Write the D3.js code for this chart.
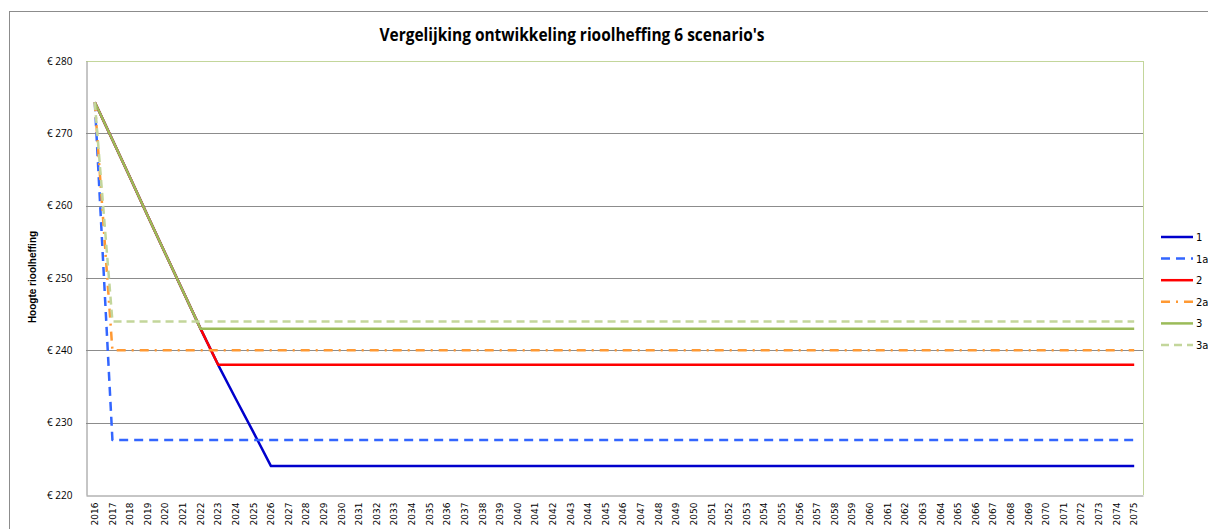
<!DOCTYPE html>
<html>
<head>
<meta charset="utf-8">
<title>Vergelijking ontwikkeling rioolheffing</title>
<script src="https://cdn.jsdelivr.net/npm/d3@7"></script>
<style>
body { margin:0; background:#fff; }
svg { display:block; }
</style>
</head>
<body>
<svg id="chart" width="1208" height="529"></svg>
<script>
// jaren 2016 - 2075
var years = [2016,2017,2018,2019,2020,2021,2022,2023,2024,2025,2026,2027,2028,2029,2030,2031,2032,2033,2034,2035,
	2036,2037,2038,2039,2040,2041,2042,2043,2044,2045,2046,2047,2048,2049,2050,2051,2052,2053,2054,2055,
	2056,2057,2058,2059,2060,2061,2062,2063,2064,2065,2066,2067,2068,2069,2070,2071,2072,2073,2074,2075];

var s1 = [274.3,269.1,263.9,258.6,253.4,248.2,243,238,233.3,228.7,224,224,224,224,224,224,224,224,224,224,
	224,224,224,224,224,224,224,224,224,224,224,224,224,224,224,224,224,224,224,224,
	224,224,224,224,224,224,224,224,224,224,224,224,224,224,224,224,224,224,224,224];
var s1a = [274.3,227.6,227.6,227.6,227.6,227.6,227.6,227.6,227.6,227.6,227.6,227.6,227.6,227.6,227.6,227.6,227.6,227.6,227.6,227.6,
	227.6,227.6,227.6,227.6,227.6,227.6,227.6,227.6,227.6,227.6,227.6,227.6,227.6,227.6,227.6,227.6,227.6,227.6,227.6,227.6,
	227.6,227.6,227.6,227.6,227.6,227.6,227.6,227.6,227.6,227.6,227.6,227.6,227.6,227.6,227.6,227.6,227.6,227.6,227.6,227.6];
var s2 = [274.3,269.1,263.9,258.6,253.4,248.2,243,238,238,238,238,238,238,238,238,238,238,238,238,238,
	238,238,238,238,238,238,238,238,238,238,238,238,238,238,238,238,238,238,238,238,
	238,238,238,238,238,238,238,238,238,238,238,238,238,238,238,238,238,238,238,238];
var s2a = [274.3,240,240,240,240,240,240,240,240,240,240,240,240,240,240,240,240,240,240,240,
	240,240,240,240,240,240,240,240,240,240,240,240,240,240,240,240,240,240,240,240,
	240,240,240,240,240,240,240,240,240,240,240,240,240,240,240,240,240,240,240,240];
var s3 = [274.3,269.1,263.9,258.6,253.4,248.2,243,243,243,243,243,243,243,243,243,243,243,243,243,243,
	243,243,243,243,243,243,243,243,243,243,243,243,243,243,243,243,243,243,243,243,
	243,243,243,243,243,243,243,243,243,243,243,243,243,243,243,243,243,243,243,243];
var s3a = [274.3,244,244,244,244,244,244,244,244,244,244,244,244,244,244,244,244,244,244,244,
	244,244,244,244,244,244,244,244,244,244,244,244,244,244,244,244,244,244,244,244,
	244,244,244,244,244,244,244,244,244,244,244,244,244,244,244,244,244,244,244,244];

var seriesNames = ["1","1a","2","2a","3","3a"];
var yTicks = [220,230,240,250,260,270,280];

var series = [
	{name:seriesNames[0], values:s1,  color:"#0000cc", dash:null},
	{name:seriesNames[1], values:s1a, color:"#3366ff", dash:"9,6"},
	{name:seriesNames[2], values:s2,  color:"#ff0000", dash:null},
	{name:seriesNames[3], values:s2a, color:"#ff9933", dash:"9,6,2,6"},
	{name:seriesNames[4], values:s3,  color:"#9bbb59", dash:null},
	{name:seriesNames[5], values:s3a, color:"#c3d69b", dash:"8,5"}
];

var svg = d3.select("#chart");
var pLeft = 86, pRight = 1143, pTop = 61, pBottom = 495;

// kader
svg.append("rect").attr("x",9.5).attr("y",11.5).attr("width",1210).attr("height",540)
	.attr("fill","none").attr("stroke","#8c8c8c");

svg.append("text").attr("x",572).attr("y",41).attr("text-anchor","middle")
	.attr("font-family","Open Sans, Liberation Sans, sans-serif").attr("font-weight","bold")
	.attr("font-size",17).attr("textLength",385).attr("lengthAdjust","spacingAndGlyphs")
	.text("Vergelijking ontwikkeling rioolheffing 6 scenario's");

var x = d3.scaleBand().domain(years).range([pLeft,pRight]);
var y = d3.scaleLinear().domain([220,280]).range([pBottom,pTop]);

// rasterlijnen
svg.append("g").selectAll("line").data(yTicks.slice(1,-1)).enter().append("line")
	.attr("x1",pLeft).attr("x2",pRight)
	.attr("y1",function(d){return Math.round(y(d))+0.5;})
	.attr("y2",function(d){return Math.round(y(d))+0.5;})
	.attr("stroke","#8c8c8c");

// plotrand
svg.append("line").attr("x1",pLeft).attr("x2",pRight).attr("y1",pTop+0.5).attr("y2",pTop+0.5).attr("stroke","#c3d69b");
svg.append("line").attr("x1",pRight+0.5).attr("x2",pRight+0.5).attr("y1",pTop).attr("y2",pBottom).attr("stroke","#c3d69b");

var yAxis = svg.append("g").attr("transform","translate("+(pLeft+0.5)+",0)")
	.call(d3.axisLeft(y).tickValues(yTicks).tickSize(0).tickPadding(14).tickFormat(function(d){return "\u20ac "+d;}));
yAxis.select(".domain").attr("stroke","#8c8c8c");
yAxis.selectAll("text").attr("font-family","Open Sans, Liberation Sans, sans-serif").attr("font-size",10).attr("fill","#000");

var xAxis = svg.append("g").attr("transform","translate(0,"+(pBottom+0.5)+")")
	.call(d3.axisBottom(x).tickSize(0).tickPadding(0));
xAxis.select(".domain").attr("stroke","#8c8c8c");
xAxis.selectAll(".tick text").attr("font-family","DejaVu Sans, sans-serif").attr("font-size",9).attr("fill","#000")
	.attr("transform","rotate(-90)").attr("text-anchor","end")
	.attr("x",-7).attr("y",0).attr("dy","0.35em");

svg.append("text").attr("transform","translate(36,277) rotate(-90)").attr("text-anchor","middle")
	.attr("font-family","Liberation Sans, sans-serif").attr("font-weight","bold").attr("font-size",10)
	.text("Hoogte rioolheffing");

var line = d3.line()
	.x(function(d,i){return x(years[i]) + x.bandwidth()/2;})
	.y(function(d){return y(d);});

svg.append("g").selectAll("path").data(series).enter().append("path")
	.attr("d",function(d){return line(d.values);})
	.attr("fill","none").attr("stroke",function(d){return d.color;})
	.attr("stroke-width",2.5).attr("stroke-dasharray",function(d){return d.dash;})
	.attr("stroke-linejoin","round");

// legenda
var lg = svg.append("g").selectAll("g").data(series).enter().append("g")
	.attr("transform",function(d,i){return "translate(1161,"+(237+i*21.6)+")";});
lg.append("line").attr("x1",0).attr("x2",32).attr("stroke",function(d){return d.color;})
	.attr("stroke-width",2.5).attr("stroke-dasharray",function(d){return d.dash;});
lg.append("text").attr("x",35).attr("y",4).attr("font-family","DejaVu Sans, sans-serif").attr("font-size",10)
	.text(function(d){return d.name;});
</script>
</body>
</html>
